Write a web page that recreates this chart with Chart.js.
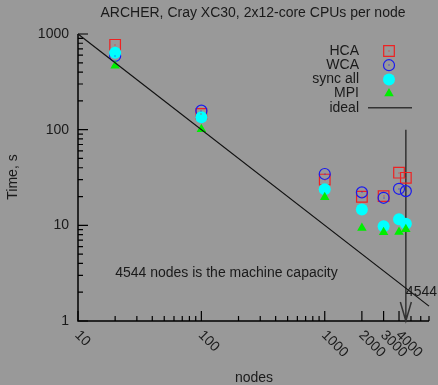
<!DOCTYPE html>
<html>
<head>
<meta charset="utf-8">
<script src="https://cdn.jsdelivr.net/npm/chart.js@4"></script>
<style>
	body { margin: 0; background: #999999; }
	#wrap { width: 438px; height: 385px; }
</style>
</head>
<body>
<div id="wrap"><canvas id="graphique" width="438" height="385"></canvas></div>
<script>
// nombre de noeuds et temps mesures (s)
const nodes = [20, 100, 1000, 2000, 3000, 4000, 4544];
const hca = [771, 146, 30.1, 19.9, 20.2, 35.5, 31.4];
const wca = [590, 158, 34.4, 22.1, 19.4, 24.1, 22.8];
const syncAll = [636, 135, 23.8, 14.6, 9.8, 11.6, 10.4];
const mpi = [465, 101, 19.6, 9.4, 8.45, 8.5, 9.1];
// droite ideale
const idealX = [10, 7000];
const idealY = [1000, 1.43];

// ticks des axes
const xTickLabels = [10, 100, 1000, 2000, 3000, 4000];
const yTickLabels = [1, 10, 100, 1000];
const capacity = 4544;

const FONT = "14px 'Liberation Sans', Arial, sans-serif";
const TXT = "#1a1a1a";

function points(xs, ys){
	return xs.map((x, i) => ({x: x, y: ys[i]}));
}

const series = [
	{label: "HCA", data: hca, style: "rect", color: "#ee2222", fill: false, r: 7.5, dot: true, order: 4},
	{label: "WCA", data: wca, style: "circle", color: "#1a1aee", fill: false, r: 5.5, dot: true, order: 3},
	{label: "sync all", data: syncAll, style: "circle", color: "#00ffff", fill: true, r: 6, dot: false, order: 2},
	{label: "MPI", data: mpi, style: "triangle", color: "#00ee00", fill: true, r: 5.5, dot: false, order: 1},
];

const datasets = series.map(s => ({
	label: s.label,
	data: points(nodes, s.data),
	pointStyle: s.style,
	pointRadius: s.r,
	borderColor: s.color,
	backgroundColor: s.fill ? s.color : "rgba(0,0,0,0)",
	pointBorderWidth: s.fill ? 0 : 1.2,
	showLine: false,
	order: s.order,
	centerDot: s.dot,
}));
datasets.push({
	label: "ideal",
	type: "line",
	data: points(idealX, idealY),
	borderColor: "#111111",
	borderWidth: 1.2,
	pointRadius: 0,
	order: 0,
});

// ticks mineurs entre les decades
function minorTicks(min, max){
	const t = [];
	for(let d = 1; d <= max; d *= 10)
		for(let k = 1; k <= 9; k++){
			const v = k * d;
			if (v >= min && v <= max) t.push(v);
		}
	return t;
}

// dessin des axes, ticks, legende et annotations
const decor = {
	id: "decor",
	beforeDraw(chart){
		const ctx = chart.ctx;
		ctx.save();
		ctx.fillStyle = "#999999";
		ctx.fillRect(0, 0, chart.width, chart.height);
		ctx.restore();
	},
	beforeDatasetsDraw(chart){
		const ctx = chart.ctx;
		const xs = chart.scales.x, ys = chart.scales.y;
		const a = chart.chartArea;
		ctx.save();
		ctx.strokeStyle = "#000000";
		ctx.lineWidth = 1.5;
		ctx.beginPath();
		ctx.moveTo(a.left, a.top);
		ctx.lineTo(a.left, a.bottom);
		ctx.lineTo(a.right, a.bottom);
		ctx.stroke();

		ctx.lineWidth = 1.2;
		ctx.beginPath();
		for(const v of minorTicks(1, 1000)){
			const y = ys.getPixelForValue(v);
			const len = yTickLabels.includes(v) ? 10 : 5;
			ctx.moveTo(a.left, y);
			ctx.lineTo(a.left + len, y);
		}
		for(const v of minorTicks(10, 7000)){
			const x = xs.getPixelForValue(v);
			const len = xTickLabels.includes(v) ? 10 : 5;
			ctx.moveTo(x, a.bottom);
			ctx.lineTo(x, a.bottom - len);
		}
		ctx.stroke();

		// fleche capacite machine
		const xc = xs.getPixelForValue(capacity);
		const yTop = ys.getPixelForValue(100);
		ctx.strokeStyle = "#333333";
		ctx.lineWidth = 1.5;
		ctx.beginPath();
		ctx.moveTo(xc, yTop);
		ctx.lineTo(xc, a.bottom);
		ctx.moveTo(xc - 5.5, a.bottom - 19);
		ctx.lineTo(xc, a.bottom);
		ctx.lineTo(xc + 5.5, a.bottom - 19);
		ctx.stroke();
		ctx.restore();
	},
	afterDatasetsDraw(chart){
		const ctx = chart.ctx;
		chart.data.datasets.forEach((ds, i) => {
			if (!ds.centerDot) return;
			ctx.fillStyle = ds.borderColor;
			for(const el of chart.getDatasetMeta(i).data)
				ctx.fillRect(Math.round(el.x) - 0.5, Math.round(el.y) - 0.5, 1, 1);
		});
	},
	afterDraw(chart){
		const ctx = chart.ctx;
		const xs = chart.scales.x, ys = chart.scales.y;
		const a = chart.chartArea;
		ctx.save();
		ctx.fillStyle = TXT;
		ctx.font = FONT;

		ctx.textAlign = "center";
		ctx.textBaseline = "middle";
		ctx.fillText("ARCHER, Cray XC30, 2x12-core CPUs per node", 253, 13);
		ctx.fillText("nodes", 254, 378);

		ctx.save();
		ctx.translate(13, 177);
		ctx.rotate(-Math.PI / 2);
		ctx.fillText("Time, s", 0, 0);
		ctx.restore();

		// labels axe y
		ctx.textAlign = "right";
		for(const v of yTickLabels)
			ctx.fillText(String(v), a.left - 9, ys.getPixelForValue(v));

		// labels axe x inclines
		ctx.textAlign = "left";
		ctx.textBaseline = "top";
		for(const v of xTickLabels){
			ctx.save();
			ctx.translate(xs.getPixelForValue(v) + 4, a.bottom + 7);
			ctx.rotate(Math.PI / 4);
			ctx.fillText(String(v), 0, 0);
			ctx.restore();
		}

		ctx.textBaseline = "middle";
		ctx.fillText(capacity + " nodes is the machine capacity", xs.getPixelForValue(20), ys.getPixelForValue(3.2));
		ctx.fillText(String(capacity), xs.getPixelForValue(capacity), a.bottom - 29);

		// legende
		const lx = 359, sx = 389, y0 = 51, dy = 14.2;
		series.forEach((s, i) => {
			const y = y0 + i * dy;
			ctx.textAlign = "right";
			ctx.fillStyle = TXT;
			ctx.fillText(s.label, lx, y);
			ctx.fillStyle = s.fill ? s.color : "rgba(0,0,0,0)";
			ctx.strokeStyle = s.color;
			ctx.lineWidth = 1.2;
			Chart.helpers.drawPoint(ctx, {
				pointStyle: s.style,
				radius: s.r,
				borderWidth: s.fill ? 0 : 1.2,
				rotation: 0,
			}, sx, y);
			if (s.dot){
				ctx.fillStyle = s.color;
				ctx.fillRect(sx - 0.5, Math.round(y) - 0.5, 1, 1);
			}
		});
		ctx.fillStyle = TXT;
		ctx.textAlign = "right";
		ctx.fillText("ideal", lx, y0 + 4 * dy);
		ctx.strokeStyle = "#333333";
		ctx.lineWidth = 1.5;
		ctx.beginPath();
		ctx.moveTo(368, y0 + 4 * dy);
		ctx.lineTo(412, y0 + 4 * dy);
		ctx.stroke();
		ctx.restore();
	},
};

new Chart(document.querySelector("#graphique"), {
	type: "scatter",
	data: {datasets: datasets},
	options: {
		responsive: false,
		animation: false,
		layout: {padding: {left: 78, top: 34, right: 9, bottom: 64}},
		plugins: {legend: {display: false}, tooltip: {enabled: false}},
		scales: {
			x: {type: "logarithmic", min: 10, max: 7000, display: false},
			y: {type: "logarithmic", min: 1, max: 1000, display: false},
		},
		clip: false,
	},
	plugins: [decor],
});
</script>
</body>
</html>
